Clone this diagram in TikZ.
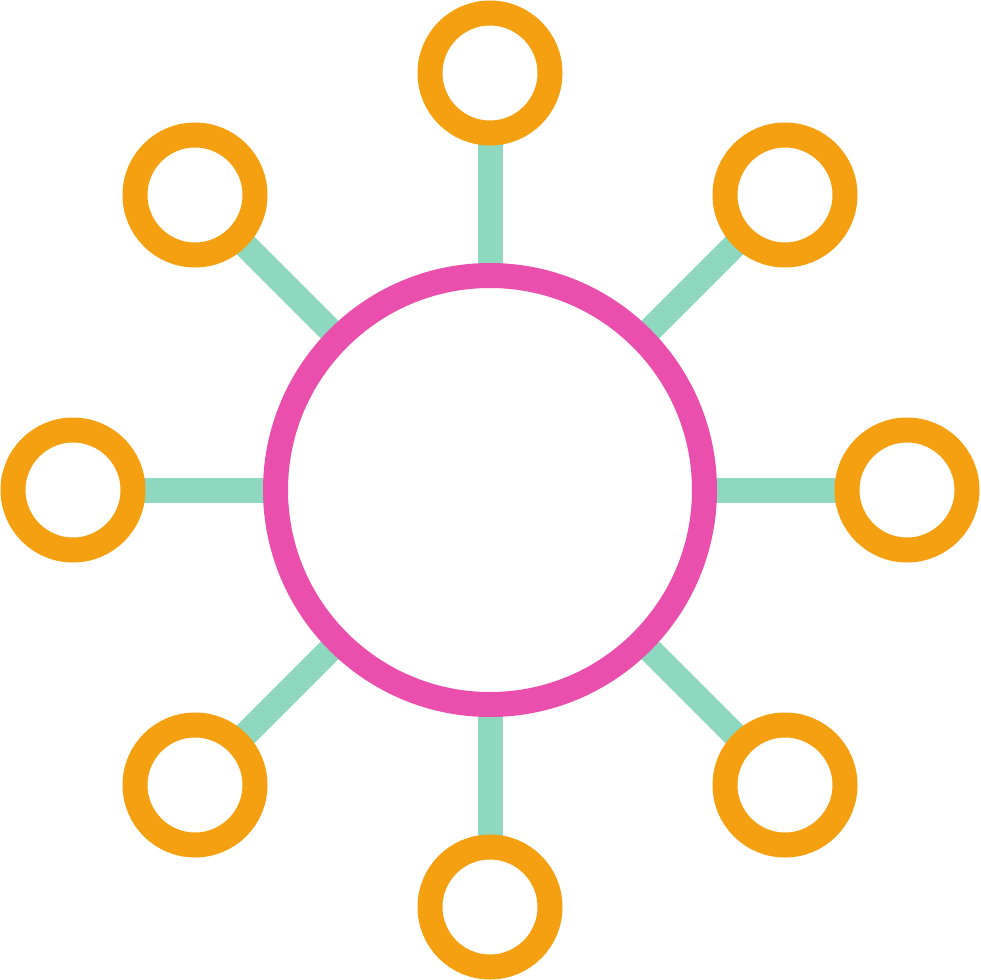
\documentclass[tikz,border=0pt]{standalone}
\usetikzlibrary{backgrounds}
\definecolor{orangec}{HTML}{F4A011}
\definecolor{tealc}{HTML}{8DD8BF}
\definecolor{pinkc}{HTML}{EA4FAE}
\begin{document}
\begin{tikzpicture}[x=1pt,y=-1pt,
  hub/.style={circle,draw=pinkc,line width=25pt,fill=white,minimum size=429pt,inner sep=0pt},
  leaf/.style={circle,draw=orangec,line width=25pt,fill=white,minimum size=120pt,inner sep=0pt},
  link/.style={draw=tealc,line width=25pt}]
\useasboundingbox (0,0) rectangle (980,980);
\node[hub] (c) at (490,490) {};
\node[leaf] (n) at (490,73) {};
\node[leaf] (s) at (490,907) {};
\node[leaf] (w) at (73,490) {};
\node[leaf] (e) at (907,490) {};
\node[leaf] (nw) at (195,195) {};
\node[leaf] (ne) at (785,195) {};
\node[leaf] (sw) at (195,785) {};
\node[leaf] (se) at (785,785) {};
\begin{scope}[on background layer]
\foreach \t in {n,s,w,e,nw,ne,sw,se}{
  \draw[link] (c.center) -- (\t.center);
}
\end{scope}
\end{tikzpicture}
\end{document}
